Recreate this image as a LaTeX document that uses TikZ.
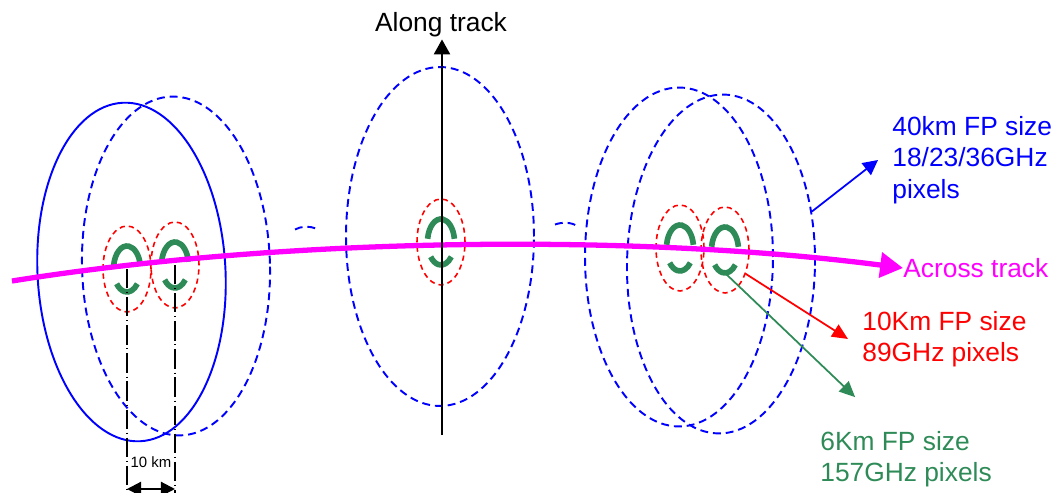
\documentclass[tikz,border=0pt]{standalone}
\usepackage{fontspec}
\setmainfont{Liberation Sans}
\usetikzlibrary{arrows.meta,shapes.geometric}
\definecolor{fpgreen}{RGB}{46,139,87}
\definecolor{trackpink}{RGB}{255,0,255}
\begin{document}
\begin{tikzpicture}[x=0.02cm, y=-0.02cm, every node/.style={font=\fontsize{15}{18}\selectfont},
  bigfp/.style={ellipse, draw=blue, line width=1.1pt, minimum width=3.76cm, minimum height=6.78cm, inner sep=0pt},
  bluedash/.style={dash pattern=on 4.5pt off 2.8pt},
  lowfp/.style={ellipse, draw=red, line width=0.9pt, dash pattern=on 3pt off 2.3pt, minimum width=0.96cm, minimum height=1.72cm, inner sep=0pt},
  pixarc/.style={draw=fpgreen, line width=3.2pt},
  lbl/.style={anchor=west, align=left, inner ysep=0pt, inner xsep=8pt}]
\useasboundingbox (0,0) rectangle (1052,493);
% 40 km footprints
\node[bigfp, rotate=3] (eA) at (131.5,272) {};
\node[bigfp, bluedash, rotate=1.5] (eB) at (176,266) {};
\node[bigfp, bluedash] (eC) at (440,236.5) {};
\node[bigfp, bluedash] (eD) at (679,257) {};
\node[bigfp, bluedash, rotate=-1] (eE) at (721,264) {};
% bits of the footprints in between
\draw[blue, line width=1.1pt, bluedash] (295,229.5) .. controls (301,226) and (310,226) .. (316,228.5);
\draw[blue, line width=1.1pt, bluedash] (555,224.5) .. controls (562,222) and (571,222) .. (577,226);
% 10 km footprints
\node[lowfp] (r1) at (127,269) {};
\node[lowfp] (r2) at (175,265) {};
\node[lowfp] (r3) at (441,242) {};
\node[lowfp] (r4) at (680,248) {};
\node[lowfp] (r5) at (725,250) {};
% 6 km pixels
\foreach \p in {r1,r2,r3,r4,r5} {
  \draw[pixarc] ([shift={(188:13.5 and 23)}]\p.center) arc[start angle=188, end angle=352, x radius=13.5, y radius=23];
  \draw[pixarc] ([shift={(40:13.5 and 23)}]\p.center) arc[start angle=40, end angle=140, x radius=13.5, y radius=23];
}
% across track
\coordinate (xs) at (12,281);
\node[text=trackpink, anchor=west, inner sep=0pt] (across) at (903,268) {Across track};
\draw[trackpink, line width=3pt, -{Triangle[length=13pt,width=14pt]}] (xs) .. controls (300,235) and (650,235) .. (across.west);
% 10 km spacing
\coordinate (bot) at (0,495);
\coordinate (dim) at (0,489);
\foreach \p in {r1,r2} \draw[line width=0.8pt, dash pattern=on 11pt off 2.2pt on 0.6pt off 2.2pt] (\p.center) -- (\p.center |- bot);
\draw[line width=1.2pt, {Triangle[length=8pt,width=8pt]}-{Triangle[length=8pt,width=8pt]}] (r1.center |- dim) -- (r2.center |- dim);
\node[font=\fontsize{8.5}{10}\selectfont, inner sep=0pt] (dlabel) at (151,462) {10 km};
% labels
\node[lbl, text=blue] (fp40) at (878,160) {40km FP size\\18/23/36GHz\\pixels};
\node[lbl, text=red] (fp10) at (848,339) {10Km FP size\\89GHz pixels};
\node[lbl, text=fpgreen, inner xsep=0pt] (fp6) at (820,459) {6Km FP size\\157GHz pixels};
\draw[blue, line width=1pt, -{Triangle[length=8.5pt,width=8.5pt]}] (eE.31) -- (fp40.west);
\draw[red, line width=1pt, -{Triangle[length=9pt,width=8pt]}] (r5.-49) -- (fp10.west);
\draw[fpgreen, line width=1pt, -{Triangle[length=9pt,width=8pt]}] ([shift={(90:13.5 and 23)}]r5.center) -- ([shift={(20pt,19pt)}]fp6.north west);
% along track
\node[inner sep=1pt] (along) at (441,25) {Along track};
\coordinate (abot) at (442,435);
\draw[line width=1.5pt, -{Triangle[length=8.5pt,width=9pt]}] (abot) -- (abot |- along.south);
\end{tikzpicture}
\end{document}
